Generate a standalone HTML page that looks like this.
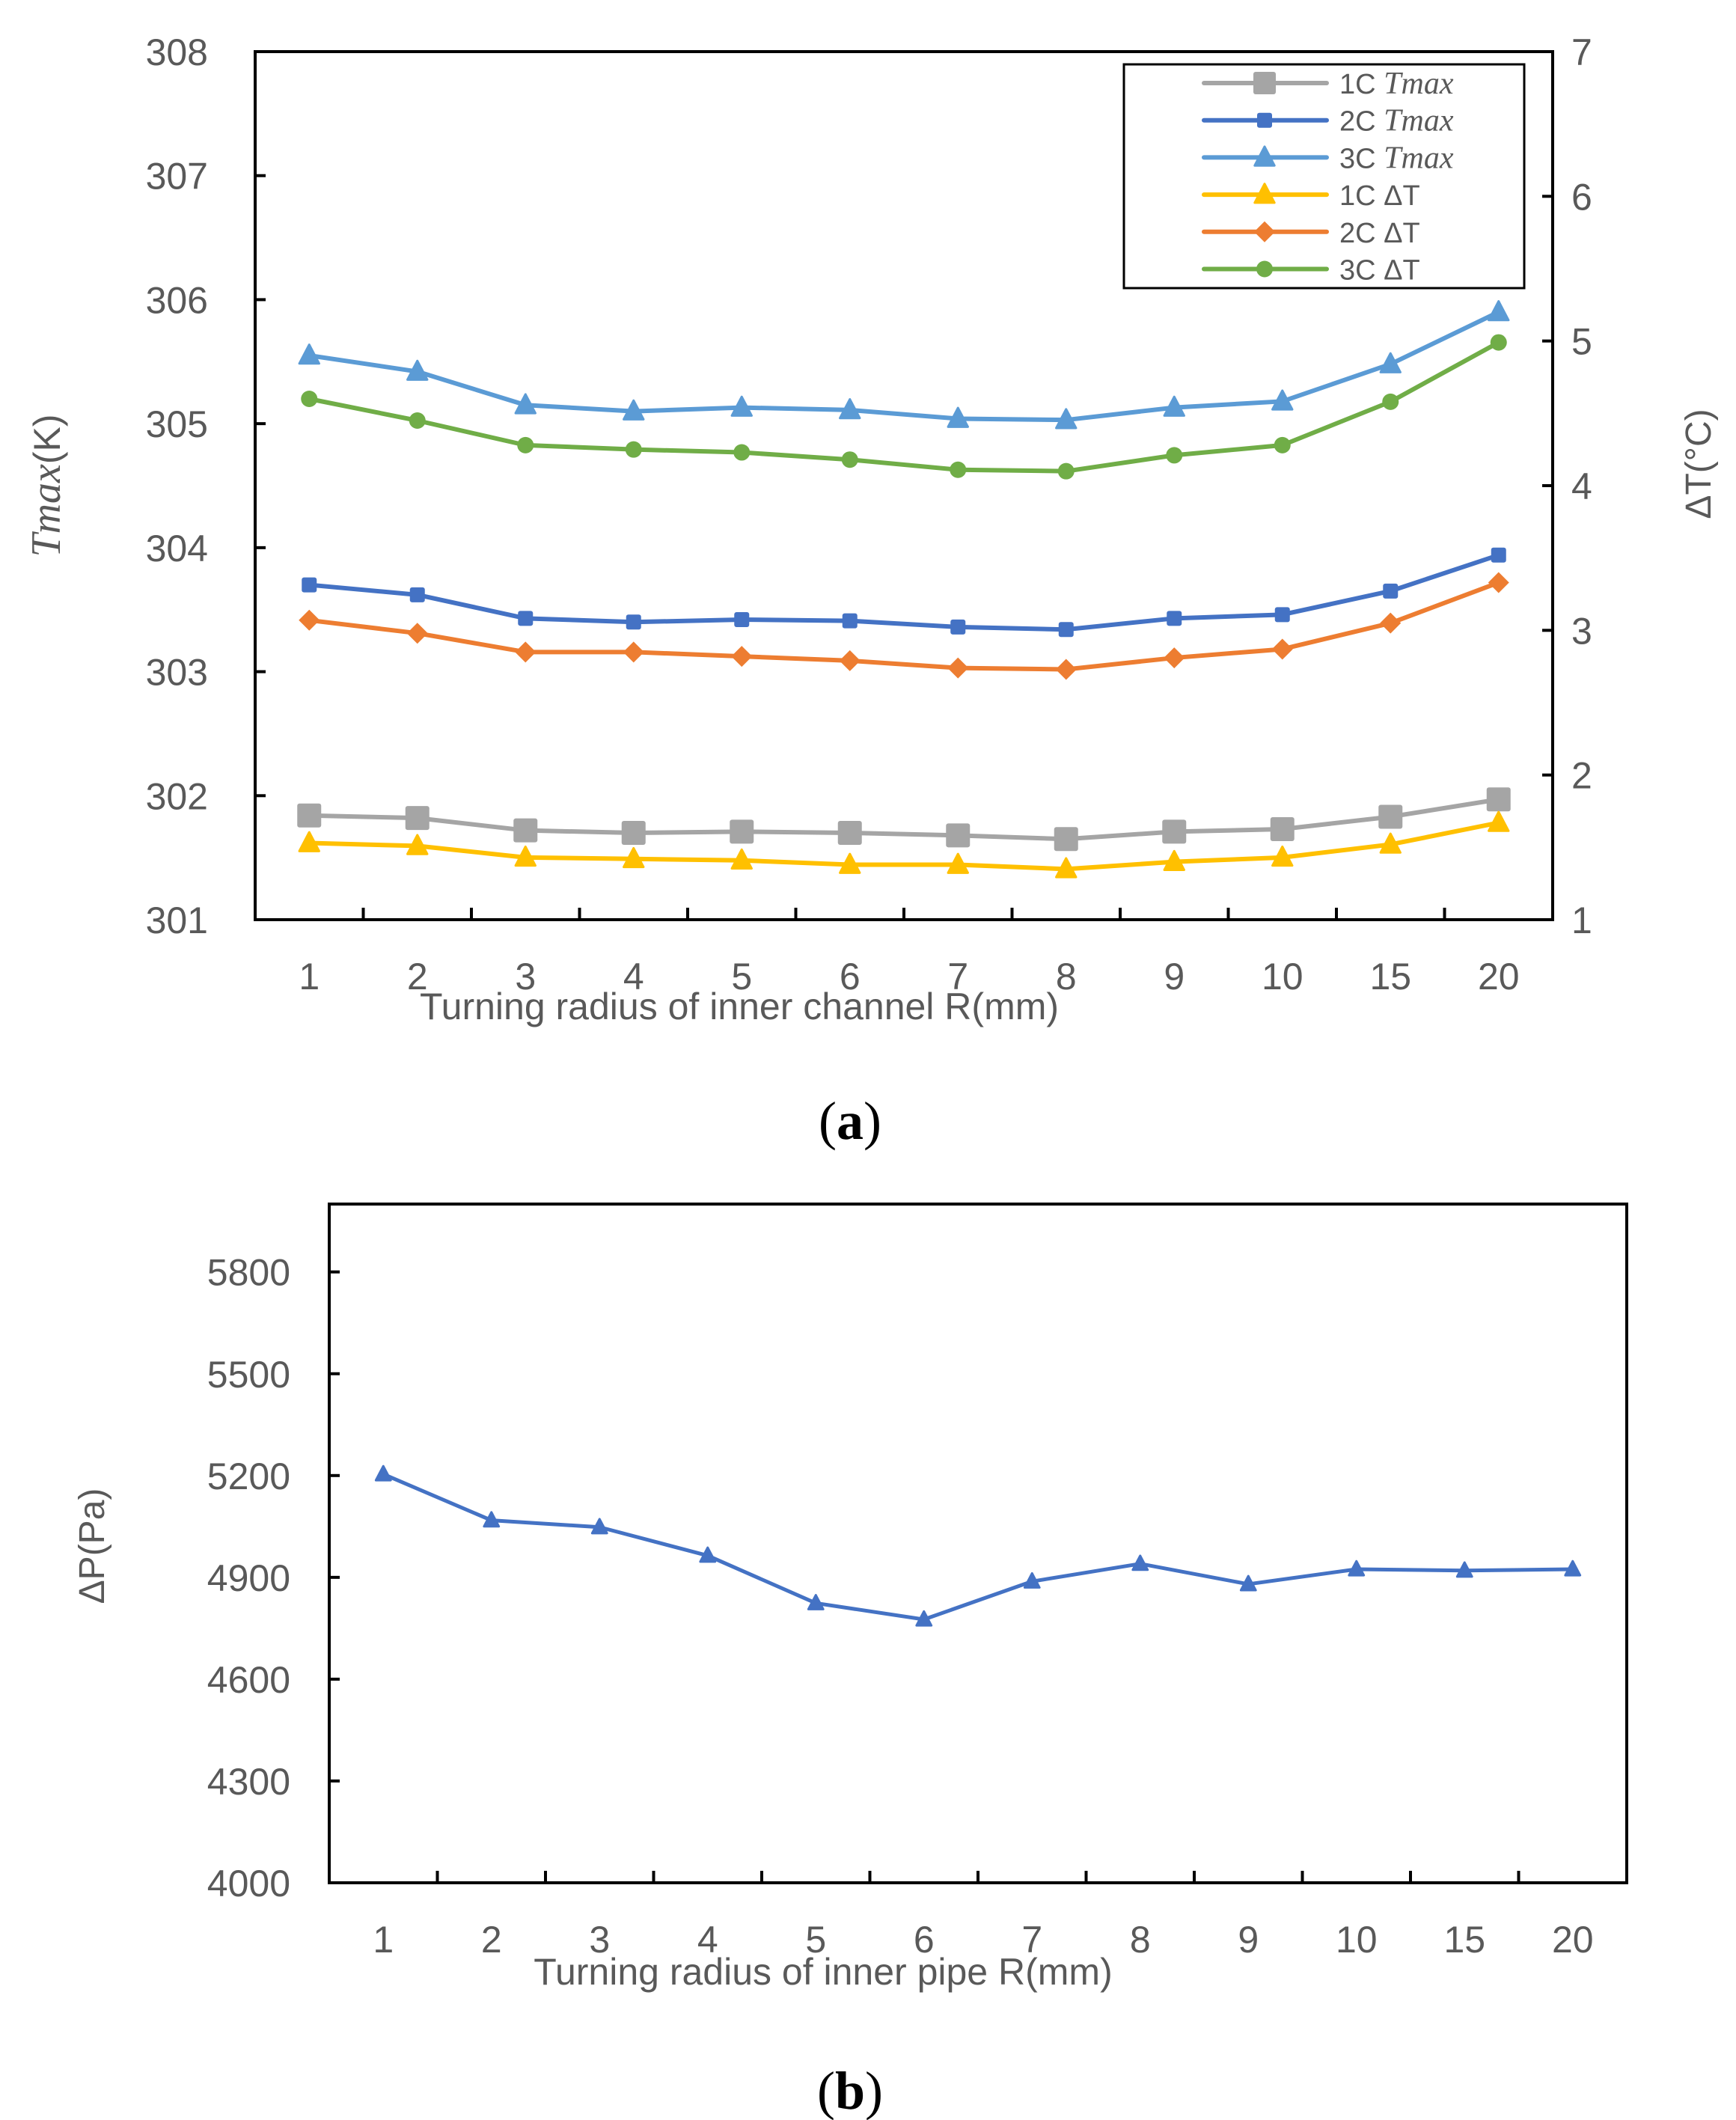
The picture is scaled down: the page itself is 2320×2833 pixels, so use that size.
<!DOCTYPE html>
<html><head><meta charset="utf-8"><style>
html,body{margin:0;padding:0;background:#fff;}
svg{display:block;font-family:"Liberation Sans",sans-serif;}
</style></head><body>
<svg id="svg" width="2320" height="2833" viewBox="0 0 2320 2833" xmlns="http://www.w3.org/2000/svg"></svg>
<script>
const categories=["1","2","3","4","5","6","7","8","9","10","15","20"];
const tmax1C=[301.84,301.82,301.72,301.70,301.71,301.70,301.68,301.65,301.71,301.73,301.83,301.97];
const tmax2C=[303.70,303.62,303.43,303.40,303.42,303.41,303.36,303.34,303.43,303.46,303.65,303.94];
const tmax3C=[305.55,305.42,305.15,305.10,305.13,305.11,305.04,305.03,305.13,305.18,305.48,305.90];
const dT1C=[1.53,1.51,1.43,1.42,1.41,1.38,1.38,1.35,1.40,1.43,1.52,1.67];
const dT2C=[3.07,2.98,2.85,2.85,2.82,2.79,2.74,2.73,2.81,2.87,3.05,3.33];
const dT3C=[4.60,4.45,4.28,4.25,4.23,4.18,4.11,4.10,4.21,4.28,4.58,4.99];
const leftTicks=[301,302,303,304,305,306,307,308];
const rightTicks=[1,2,3,4,5,6,7];
const dP=[5204,5068,5048,4964,4824,4776,4888,4940,4880,4924,4920,4924];
const dPTicks=[4000,4300,4600,4900,5200,5500,5800];

const NS="http://www.w3.org/2000/svg";
const svg=document.getElementById('svg');
function mk(tag,attrs,parent){const e=document.createElementNS(NS,tag);for(const k in attrs)e.setAttribute(k,attrs[k]);(parent||svg).appendChild(e);return e;}
const TXT="#595959";
const FS=50;

function marker(g,type,x,y,color,s){
  let e;
  if(type==='bigsq'||type==='sq'){e=mk('rect',{x:x-s/2,y:y-s/2,width:s,height:s,rx:3,fill:color},g);}
  else if(type==='tri'){e=mk('path',{d:`M${x} ${y-s*0.6}L${x+s*0.55} ${y+s*0.45}L${x-s*0.55} ${y+s*0.45}Z`,fill:color,stroke:color,'stroke-width':3,'stroke-linejoin':'round'},g);}
  else if(type==='dia'){e=mk('path',{d:`M${x} ${y-s/2}L${x+s/2} ${y}L${x} ${y+s/2}L${x-s/2} ${y}Z`,fill:color},g);}
  else {e=mk('circle',{cx:x,cy:y,r:s/2,fill:color},g);}
  
  
}

// ---------- Chart A ----------
const A={x0:341,x1:2075,y0:69,y1:1229};
const bw=(A.x1-A.x0)/categories.length;
const xA=i=>A.x0+bw*(i+0.5);
const yL=v=>A.y1-(v-301)/7*(A.y1-A.y0);
const yR=v=>A.y1-(v-1)/6*(A.y1-A.y0);
const gA=mk('g',{});


const fa=mk('rect',{x:A.x0,y:A.y0,width:A.x1-A.x0,height:A.y1-A.y0,fill:'none',stroke:'#000','stroke-width':4},gA);


leftTicks.forEach(v=>{
  const y=yL(v);
  if(v>301&&v<308)mk('line',{x1:A.x0,x2:A.x0+14,y1:y,y2:y,stroke:'#000','stroke-width':4},gA);
  const t=mk('text',{x:278,y:y+18,'text-anchor':'end','font-size':FS,fill:TXT},gA);t.textContent=v;
  
  
});
rightTicks.forEach(v=>{
  const y=yR(v);
  if(v>1&&v<7)mk('line',{x1:A.x1-14,x2:A.x1,y1:y,y2:y,stroke:'#000','stroke-width':4},gA);
  const t=mk('text',{x:2100,y:y+18,'font-size':FS,fill:TXT},gA);t.textContent=v;
  
  
});
categories.forEach((c,i)=>{
  if(i>0)mk('line',{x1:A.x0+bw*i,x2:A.x0+bw*i,y1:A.y1,y2:A.y1-16,stroke:'#000','stroke-width':4},gA);
  const t=mk('text',{x:xA(i),y:1322,'text-anchor':'middle','font-size':FS,fill:TXT},gA);t.textContent=c;
  
  
});
let t=mk('text',{x:988,y:1362,'text-anchor':'middle','font-size':FS,fill:TXT},gA);t.textContent='Turning radius of inner channel R(mm)';


t=mk('text',{transform:'translate(80,649) rotate(-90)','text-anchor':'middle','font-size':50,fill:TXT},gA);
t.innerHTML='<tspan font-family="Liberation Serif, serif" font-style="italic" font-size="56">Tmax</tspan>(K)';


t=mk('text',{transform:'translate(2286,620) rotate(-90)','text-anchor':'middle','font-size':48,fill:TXT},gA);t.textContent='ΔT(°C)';



const seriesA=[
 {vals:tmax1C,y:yL,c:'#A5A5A5',m:'bigsq',s:32,label:'1C ',it:'Tmax'},
 {vals:tmax2C,y:yL,c:'#4472C4',m:'sq',s:20,label:'2C ',it:'Tmax'},
 {vals:tmax3C,y:yL,c:'#5B9BD5',m:'tri',s:24,label:'3C ',it:'Tmax'},
 {vals:dT1C,y:yR,c:'#FFC000',m:'tri',s:24,label:'1C ΔT'},
 {vals:dT2C,y:yR,c:'#ED7D31',m:'dia',s:28,label:'2C ΔT'},
 {vals:dT3C,y:yR,c:'#70AD47',m:'circ',s:22,label:'3C ΔT'}
];
seriesA.forEach((s,k)=>{
  const g=mk('g',{},gA);
  
  
  const p=mk('polyline',{points:s.vals.map((v,i)=>xA(i)+','+s.y(v)).join(' '),fill:'none',stroke:s.c,'stroke-width':6,'stroke-linejoin':'round'},g);
  
  
  s.vals.forEach((v,i)=>marker(g,s.m,xA(i),s.y(v),s.c,s.s));
});
// legend
const lg=mk('g',{},gA);


mk('rect',{x:1502,y:86,width:535,height:299,fill:'#fff',stroke:'#000','stroke-width':3},lg);
seriesA.forEach((s,k)=>{
  const y=111+k*49.7;
  const e=mk('g',{},lg);
  
  
  mk('line',{x1:1609,x2:1773,y1:y,y2:y,stroke:s.c,'stroke-width':6,'stroke-linecap':'round'},e);
  marker(e,s.m,1690,y,s.c,s.m==='bigsq'?30:s.s);
  const tt=mk('text',{x:1790,y:y+14,'font-size':38,fill:TXT},e);
  tt.innerHTML=s.label+(s.it?'<tspan font-family="Liberation Serif, serif" font-style="italic" font-size="42">'+s.it+'</tspan>':'');
});
t=mk('text',{x:1136,y:1522,'text-anchor':'middle','font-size':72,'font-family':'Liberation Serif, serif',fill:'#000'});
t.innerHTML='(<tspan font-weight="bold">a</tspan>)';



// ---------- Chart B ----------
const B={x0:440,x1:2174,y0:1609,y1:2516};
const bw2=(B.x1-B.x0)/categories.length;
const xB=i=>B.x0+bw2*(i+0.5);
const yB=v=>B.y1-(v-4000)/2000*(B.y1-B.y0);
const gB=mk('g',{});


const fb=mk('rect',{x:B.x0,y:B.y0,width:B.x1-B.x0,height:B.y1-B.y0,fill:'none',stroke:'#000','stroke-width':4},gB);


dPTicks.forEach(v=>{
  const y=yB(v);
  if(v>4000)mk('line',{x1:B.x0,x2:B.x0+14,y1:y,y2:y,stroke:'#000','stroke-width':4},gB);
  const tt=mk('text',{x:388,y:y+18,'text-anchor':'end','font-size':FS,fill:TXT},gB);tt.textContent=v;
  
  
});
categories.forEach((c,i)=>{
  if(i>0)mk('line',{x1:B.x0+bw2*i,x2:B.x0+bw2*i,y1:B.y1,y2:B.y1-16,stroke:'#000','stroke-width':4},gB);
  const tt=mk('text',{x:xB(i),y:2609,'text-anchor':'middle','font-size':FS,fill:TXT},gB);tt.textContent=c;
  
  
});
t=mk('text',{x:1100,y:2652,'text-anchor':'middle','font-size':FS,fill:TXT},gB);t.textContent='Turning radius of inner pipe R(mm)';


t=mk('text',{transform:'translate(139,2066) rotate(-90)','text-anchor':'middle','font-size':48,fill:TXT},gB);t.textContent='ΔP(Pa)';


const gs=mk('g',{},gB);


const pl=mk('polyline',{points:dP.map((v,i)=>xB(i)+','+yB(v)).join(' '),fill:'none',stroke:'#4472C4','stroke-width':5,'stroke-linejoin':'round'},gs);


dP.forEach((v,i)=>marker(gs,'tri',xB(i),yB(v),'#4472C4',18));
t=mk('text',{x:1136,y:2818,'text-anchor':'middle','font-size':72,'font-family':'Liberation Serif, serif',fill:'#000'});
t.innerHTML='(<tspan font-weight="bold">b</tspan>)';


</script>
</body></html>
